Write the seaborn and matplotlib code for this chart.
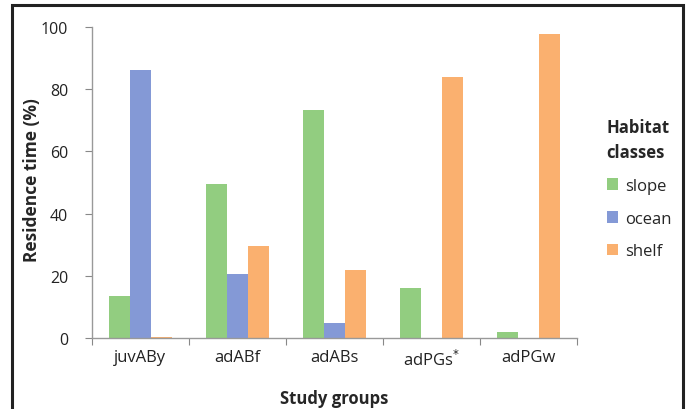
import pandas as pd
import matplotlib.pyplot as plt
import seaborn as sns
from matplotlib.patches import Rectangle

# data
groups = ["juvABy", "adABf", "adABs", "adPGs", "adPGw"]
tick_labels = ["juvABy", "adABf", "adABs", "adPGs$^{*}$", "adPGw"]
habitats = ["slope", "ocean", "shelf"]
slope = [13.5, 49.5, 73.4, 16.2, 2.0]
ocean = [86.2, 20.6, 4.7, 0.0, 0.0]
shelf = [0.5, 29.7, 22.0, 83.8, 97.8]
colors = ["#92cd80", "#8499d6", "#fab06f"]

rows = []
for hab, vals in zip(habitats, [slope, ocean, shelf]):
    for g, v in zip(groups, vals):
        rows.append({"group": g, "habitat": hab, "value": v})
df = pd.DataFrame(rows)

sns.set_style("white")
plt.rcParams["font.family"] = ["Open Sans", "DejaVu Sans"]

fig = plt.figure(figsize=(6.9, 4.1), dpi=100)
ax = fig.add_axes([0.1333, 0.173, 0.703, 0.759])

sns.barplot(data=df, x="group", y="value", hue="habitat", hue_order=habitats,
            palette=colors, width=0.65, saturation=1, linewidth=0, ax=ax)

ax.set_ylim(0, 100)
ax.set_yticks([0, 20, 40, 60, 80, 100])
ax.set_xlim(-0.5, 4.5)
ax.set_xticks([-0.5, 0.5, 1.5, 2.5, 3.5, 4.5], minor=False)
ax.set_xticklabels([])
ax.set_xticks(range(5), minor=True)
ax.set_xticklabels(tick_labels, minor=True)
ax.tick_params(axis="x", which="major", length=5, color="#888888", direction="out", bottom=True)
ax.tick_params(axis="x", which="minor", length=0, labelsize=12, pad=8, colors="#222222")
ax.tick_params(axis="y", length=5, color="#888888", direction="out", left=True,
               labelsize=11.5, colors="#222222", pad=12)

for s in ["top", "right"]:
    ax.spines[s].set_visible(False)
for s in ["left", "bottom"]:
    ax.spines[s].set_color("#999999")
    ax.spines[s].set_linewidth(1)

ax.set_xlabel("Study groups", fontsize=12, fontweight="bold", labelpad=14)
ax.set_ylabel("Residence time (%)", fontsize=12.5, fontweight="bold")
ax.yaxis.set_label_coords(-0.106, 0.51)

leg = ax.legend(title="Habitat\nclasses", loc="center left", bbox_to_anchor=(1.03, 0.48),
                frameon=False, fontsize=12, handlelength=0.7, handleheight=0.7,
                handletextpad=0.4, labelspacing=1.0)
leg.get_title().set_fontweight("bold")
leg.get_title().set_fontsize(12)
leg.get_title().set_linespacing(1.5)
leg._legend_box.align = "left"

fig.patches.append(Rectangle((12 / 690, -0.02), 671 / 690, 1 - 6 / 410 + 0.02,
                             transform=fig.transFigure, fill=False,
                             edgecolor="#222222", linewidth=2.2))

fig.savefig("out.png", dpi=100)
